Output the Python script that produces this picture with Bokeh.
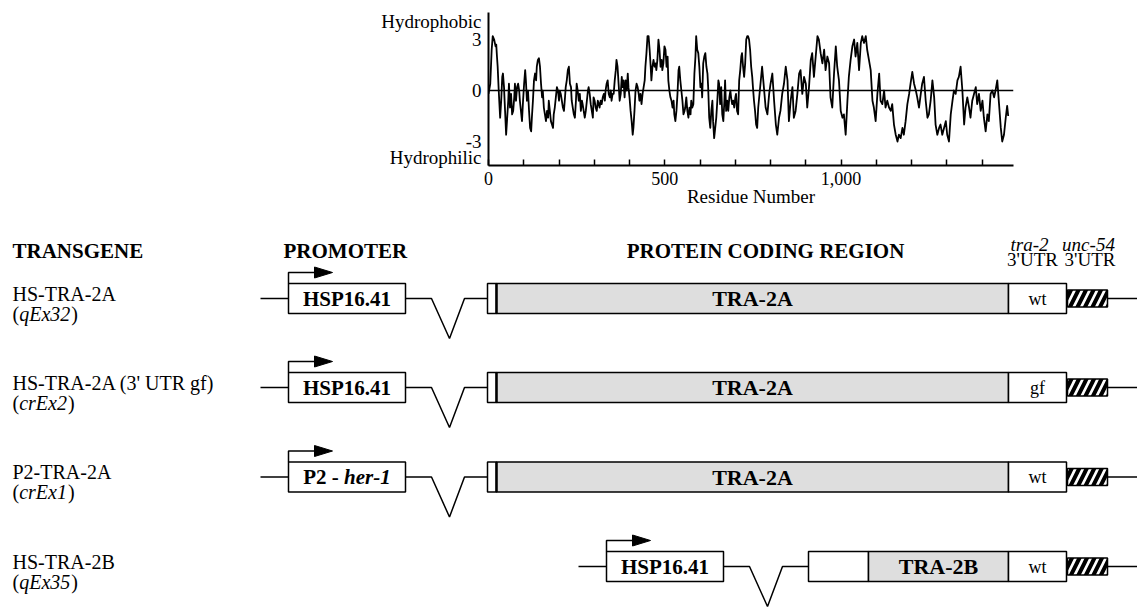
from bokeh.plotting import figure
from bokeh.layouts import column
from bokeh.models import Range1d, FixedTicker, Span
from bokeh.core.properties import value
from bokeh.embed import file_html
from bokeh.resources import INLINE

# ---------------- data ----------------
RESIDUE = [
    0, 5, 9, 12, 16, 20, 22, 24, 26, 29,
    31, 33, 36, 39, 41, 44, 47, 50, 53, 56,
    58, 61, 64, 67, 70, 73, 75, 78, 81, 84,
    87, 89, 92, 95, 98, 101, 104, 106, 109, 112,
    115, 118, 121, 123, 126, 129, 132, 135, 137, 140,
    143, 146, 149, 152, 154, 157, 160, 163, 166, 169,
    171, 174, 177, 180, 183, 185, 188, 191, 194, 197,
    200, 202, 205, 208, 211, 214, 217, 219, 222, 225,
    228, 231, 234, 236, 239, 242, 245, 248, 250, 253,
    256, 259, 262, 265, 267, 270, 273, 276, 279, 282,
    284, 287, 290, 293, 296, 298, 301, 304, 307, 310,
    313, 315, 318, 321, 324, 327, 330, 332, 335, 338,
    341, 344, 347, 349, 352, 355, 358, 361, 363, 366,
    369, 372, 375, 378, 380, 383, 386, 389, 392, 395,
    397, 400, 403, 406, 409, 411, 414, 417, 420, 423,
    426, 428, 431, 434, 437, 440, 443, 445, 448, 451,
    454, 457, 460, 462, 465, 468, 471, 474, 476, 479,
    482, 485, 488, 491, 493, 496, 499, 502, 505, 508,
    510, 513, 516, 519, 522, 525, 527, 530, 533, 536,
    539, 541, 544, 547, 550, 553, 556, 558, 561, 564,
    567, 570, 573, 575, 578, 581, 584, 587, 589, 592,
    595, 598, 601, 604, 606, 609, 612, 615, 618, 621,
    623, 626, 629, 632, 635, 637, 640, 643, 646, 649,
    652, 654, 657, 660, 663, 666, 669, 671, 674, 677,
    680, 683, 686, 688, 691, 694, 697, 700, 702, 705,
    708, 711, 714, 717, 719, 722, 725, 728, 731, 734,
    736, 739, 742, 745, 748, 750, 753, 756, 759, 762, 765,
    776, 781, 786, 791, 796, 800, 805, 810, 815, 819,
    824, 828, 833, 838, 843, 848, 852, 857, 862, 866,
    871, 876, 881, 885, 890, 895, 900, 904, 909, 914,
    918, 923, 928, 933, 937, 942, 947, 952, 956, 961,
    966, 970, 975, 980, 985, 989, 994, 999, 1004, 1008,
    1013, 1018, 1022, 1027, 1032, 1037, 1041, 1046, 1051, 1056,
    1060, 1065, 1070, 1074, 1079, 1084, 1089, 1093, 1098, 1103,
    1108, 1112, 1117, 1122, 1126, 1131, 1136, 1141, 1145, 1150,
    1155, 1160, 1164, 1169, 1174, 1178, 1183, 1188, 1193, 1197,
    1202, 1207, 1212, 1216, 1221, 1226, 1230, 1235, 1240, 1245,
    1249, 1254, 1259, 1264, 1268, 1273, 1278, 1282, 1287, 1292,
    1297, 1301, 1306, 1311, 1316, 1320, 1325, 1330, 1334, 1339,
    1344, 1349, 1353, 1358, 1363, 1367, 1372, 1377, 1382, 1386,
    1391, 1396, 1401, 1405, 1410, 1415, 1419, 1424, 1429, 1434,
    1438, 1443, 1448, 1453, 1457, 1462, 1467, 1471, 1474,
]
HYDROPATHY = [
    -0.2, 0.4, 2.4, 3.2, 3.0, 2.6, 2.7, 2.0, 1.4, 0.0,
    -0.8, -1.6, -0.6, 0.8, 1.0, 0.2, -1.2, -2.6, -1.6, -0.6,
    0.4, -1.0, -0.2, -1.4, -1.2, -0.4, 0.4, -0.6, 0.2, 0.4,
    0.0, -0.6, -1.2, -1.8, -0.6, 0.4, 1.2, 0.6, -0.6, 0.0,
    -1.2, -2.2, -2.4, -1.6, -0.6, 0.6, 1.0, 0.6, 1.4, 1.8,
    1.9, 1.4, 0.4, -0.4, 0.0, -1.0, -1.4, -1.8, -1.2, -1.6,
    -0.6, -1.2, -1.8, -2.0, -2.2, -1.4, -1.0, -0.4, 0.2, 0.0,
    -0.6, 0.0, -0.2, -0.6, -1.0, -1.2, -0.4, 0.2, 0.6, 1.2,
    1.4, 0.4, 0.2, -0.6, -1.0, -1.4, -1.6, -0.6, 0.4, 0.0,
    -0.6, -0.2, -1.2, -0.6, -0.8, -1.2, -1.6, -1.2, -0.6, 0.0,
    0.2, -0.2, -0.8, -1.2, -1.6, -0.4, -0.6, -1.0, -1.2, -0.6,
    -0.8, -1.0, -0.6, -0.8, -0.4, -0.2, -0.6, 0.0, 0.4, 0.6,
    -0.2, -0.4, 0.0, -0.6, -0.2, -0.2, 0.6, 1.2, 1.8, 1.4,
    0.4, -0.6, -0.2, 0.8, 0.2, 0.6, -0.4, 0.6, 0.0, 1.0,
    0.2, -0.4, -1.2, -1.8, -2.6, -2.2, -1.2, 0.0, 0.4, 0.2,
    -0.2, -0.6, -0.2, -0.8, -0.2, 0.2, 0.6, 1.4, 2.2, 3.2,
    3.2, 2.4, 1.4, 0.6, 1.4, 1.8, 1.4, 1.6, 1.2, 1.8,
    3.0, 2.4, 1.4, 1.8, 1.2, 1.6, 2.6, 2.4, 1.4, 2.0,
    0.6, 0.0, -0.4, -0.6, -1.0, -0.6, -1.4, -1.8, -1.2, -0.2,
    1.2, 1.4, 0.6, 0.0, -0.6, -1.4, -1.2, -1.0, -0.4, -1.2,
    -1.6, -1.0, -1.4, -0.6, -1.0, -0.8, 1.0, 2.0, 3.2, 2.4,
    2.2, 1.4, 0.2, 0.4, -0.4, 1.6, 2.0, 2.2, 1.4, 1.0,
    0.2, -1.6, -2.2, -1.2, -0.6, -1.8, -2.8, -2.2, -1.6, -0.6,
    0.6, 0.4, -0.8, 0.2, -1.4, -1.8, -0.6, 0.6, -1.2, -0.6,
    -1.2, -0.4, 0.0, -0.4, -0.8, -0.6, -1.0, -0.4, -0.2, -1.2,
    -1.4, 0.6, 1.2, 2.0, 2.2, 1.4, 0.8, 1.6, 3.0, 3.2,
    3.2, 3.0, 2.4, 1.4, 0.8, 0.2, -0.6, -1.2, -2.0, -2.2, -1.0,
    1.4, 0.2, -1.0, -1.4, -0.2, 0.4, 1.0, -0.6, -2.0, -2.6,
    -1.6, -1.2, -0.2, 0.4, 1.4, 0.6, -1.8, -0.6, 0.2, -1.6,
    -1.2, -0.2, 1.0, 1.2, -0.2, 0.8, 0.4, -1.0, 0.2, 1.8,
    2.2, 0.8, 2.0, 3.2, 3.0, 2.2, 1.6, 2.4, 1.2, 2.0,
    1.6, -0.4, -1.0, 1.0, 2.6, 1.4, 0.6, -1.2, -1.6, -1.4,
    -2.6, -0.6, 0.8, 1.8, 2.6, 3.0, 2.0, 2.8, 1.2, 2.8,
    3.2, 2.8, 3.2, 2.4, 1.8, 1.2, -0.6, -1.0, -1.8, -0.2,
    1.0, -0.6, -0.8, 0.0, -1.0, -0.6, -1.0, -1.2, -0.8, -2.0,
    -2.6, -3.0, -2.6, -2.8, -2.2, -2.6, -1.8, -0.8, -0.2, 0.4,
    1.1, 0.4, 0.0, -0.4, -1.0, -0.2, 0.4, 0.8, -0.6, -1.6,
    -1.4, -0.6, 0.6, -0.4, -2.0, -2.6, -2.2, -2.0, -2.6, -2.2,
    -1.8, -2.6, -3.0, -1.4, -0.6, 0.0, -0.2, 0.6, 0.8, 1.4,
    0.0, -2.0, -1.0, -0.4, -1.0, -1.6, -0.6, -0.2, 0.2, -0.8,
    -0.2, -1.2, -0.6, -1.6, -2.4, -1.4, -1.8, -0.2, 0.0, -0.4,
    0.0, 0.6, -0.8, -2.2, -3.0, -2.6, -1.6, -0.9, -1.5,
]
X_TICKS = [0, 100, 200, 300, 400, 500, 600, 700, 800, 900, 1000, 1100, 1200, 1300, 1400]
X_TICK_LABELS = {0: "0", 500: "500", 1000: "1,000"}
Y_TICKS = [-3.94, -3, 0, 3, 4.06]
Y_TICK_LABELS = {-3.94: "Hydrophilic", -3: "-3", 0: "0", 3: "3", 4.06: "Hydrophobic"}

TRANSGENES = ["HS-TRA-2A", "HS-TRA-2A (3' UTR gf)", "P2-TRA-2A", "HS-TRA-2B"]
STRAINS = ["qEx32", "crEx2", "crEx1", "qEx35"]
PROMOTERS = ["HSP16.41", "HSP16.41", "P2 - her-1", "HSP16.41"]
CODING = ["TRA-2A", "TRA-2A", "TRA-2A", "TRA-2B"]
UTR3 = ["wt", "gf", "wt", "wt"]
HEADERS = ["TRANSGENE", "PROMOTER", "PROTEIN CODING REGION"]

SERIF = "Liberation Serif"

# ---------------- hydropathy plot ----------------
p1 = figure(frame_width=525, frame_height=153, min_border_left=488, min_border_right=124,
            min_border_top=12, min_border_bottom=52,
            x_range=Range1d(0, 1489), y_range=Range1d(-4.41, 4.59),
            toolbar_location=None, output_backend="svg")
p1.frame_align = False
p1.outline_line_color = None
p1.grid.visible = False

xa = p1.xaxis[0]
xa.ticker = FixedTicker(ticks=X_TICKS)
xa.major_label_overrides = {t: X_TICK_LABELS.get(t, "") for t in X_TICKS}
xa.major_tick_in = 6
xa.major_tick_out = 0
xa.minor_tick_line_color = None
xa.axis_line_width = 2
xa.major_tick_line_width = 1.5
xa.major_label_text_font = SERIF
xa.major_label_text_font_size = "18px"
xa.major_label_text_color = "black"
xa.major_label_standoff = 6
xa.axis_label = "Residue Number"
xa.axis_label_text_font = SERIF
xa.axis_label_text_font_size = "19px"
xa.axis_label_text_font_style = "normal"
xa.axis_label_text_color = "black"
xa.axis_label_standoff = -2

ya = p1.yaxis[0]
ya.ticker = FixedTicker(ticks=Y_TICKS)
ya.major_label_overrides = Y_TICK_LABELS
ya.major_tick_in = 0
ya.major_tick_out = 0
ya.minor_tick_line_color = None
ya.axis_line_width = 2
ya.major_label_text_font = SERIF
ya.major_label_text_font_size = "19px"
ya.major_label_text_color = "black"
ya.major_label_standoff = 7

p1.add_layout(Span(location=0, dimension="width", line_color="black", line_width=1.6))
p1.line(RESIDUE, HYDROPATHY, line_color="black", line_width=1.8, line_join="round")

# ---------------- transgene diagrams ----------------
p2 = figure(frame_width=1137, frame_height=392, x_range=Range1d(0, 1137), y_range=Range1d(609, 217),
            x_axis_type=None, y_axis_type=None, min_border=0,
            toolbar_location=None, output_backend="svg")
p2.frame_align = False
p2.outline_line_color = None
p2.grid.visible = False

ROW_Y = [298, 387, 476.5, 566]
PROM_LEFT = [288, 288, 288, 606]
PROM_W = 117
CODE_LEFT = [487, 487, 487, 808]
NTERM_RIGHT = [496, 496, 496, 868]
UTR_L, UTR_R = 1008, 1066
HATCH_L, HATCH_R = 1067, 1107
HALF = 15
VDEPTH = 40

# Times metrics (em units) for placing run-in text pieces
REG = {"(": 0.333, ")": 0.333}
ITAL = {"q": 0.5, "E": 0.611, "x": 0.444, "c": 0.444, "r": 0.389,
        "1": 0.5, "2": 0.5, "3": 0.5, "5": 0.5}
BOLD = {"P": 0.611, "2": 0.5, " ": 0.25, "-": 0.333}
BOLDIT = {"h": 0.556, "e": 0.444, "r": 0.389, "-": 0.333, "1": 0.5}


def width(s, table, size):
    return sum(table[c] for c in s) * size


line_xs, line_ys = [], []
for i, yc in enumerate(ROW_Y):
    pl = PROM_LEFT[i]
    pr = pl + PROM_W
    cl = CODE_LEFT[i]
    line_xs += [[pl - 28, pl], [pr, pr + 26, pr + 44, pr + 59, cl], [HATCH_R, 1137],
                [pl, pl, pl + 27]]
    line_ys += [[yc, yc], [yc, yc, yc + VDEPTH, yc, yc], [yc, yc],
                [yc - HALF, yc - 26, yc - 26]]
p2.multi_line(line_xs, line_ys, line_color="black", line_width=1.5)

# arrow heads
tri_xs = [[pl + 26, pl + 26, pl + 44] for pl in PROM_LEFT]
tri_ys = [[yc - 31.5, yc - 20.5, yc - 26] for yc in ROW_Y]
p2.patches(tri_xs, tri_ys, fill_color="black", line_color="black", line_width=1)

tops = [y - HALF for y in ROW_Y]
bots = [y + HALF for y in ROW_Y]
# promoter boxes
p2.quad(left=PROM_LEFT, right=[x + PROM_W for x in PROM_LEFT], top=tops, bottom=bots,
        fill_color="white", line_color="black", line_width=1.5)
# N-terminal (white) part, coding (grey), 3'UTR (white)
p2.quad(left=CODE_LEFT, right=NTERM_RIGHT, top=tops, bottom=bots,
        fill_color="white", line_color="black", line_width=1.5)
p2.quad(left=NTERM_RIGHT, right=[UTR_L] * 4, top=tops, bottom=bots,
        fill_color="#dedede", line_color="black", line_width=1.5)
p2.multi_line([[x, x] for x in NTERM_RIGHT[:3]], [[t, b] for t, b in zip(tops[:3], bots[:3])],
              line_color="black", line_width=2.4)
p2.quad(left=[UTR_L] * 4, right=[UTR_R] * 4, top=tops, bottom=bots,
        fill_color="white", line_color="black", line_width=1.5)
# unc-54 3'UTR hatched
p2.quad(left=[HATCH_L] * 4, right=[HATCH_R] * 4, top=[y - 8.5 for y in ROW_Y],
        bottom=[y + 8.5 for y in ROW_Y], fill_color="white", line_color="black", line_width=1.5,
        hatch_pattern="/", hatch_color="black", hatch_weight=4, hatch_scale=15)

# headers
p2.text(x=[12, 283], y=[250, 250], text=HEADERS[:2], text_font=value(SERIF), text_font_size="21px",
        text_font_style="bold", text_align="left", text_baseline="middle", text_color="black")
p2.text(x=[765], y=[250], text=HEADERS[2:], text_font=value(SERIF), text_font_size="21px",
        text_font_style="bold", text_align="center", text_baseline="middle", text_color="black")
p2.text(x=[1029, 1088], y=[244, 244], text=["tra-2", "unc-54"], text_font=value(SERIF),
        text_font_size="19px", text_font_style="italic", text_align="center",
        text_baseline="middle", text_color="black")
p2.text(x=[1032, 1089.5], y=[259, 259], text=["3'UTR", "3'UTR"], text_font=value(SERIF),
        text_font_size="19px", text_align="center", text_baseline="middle", text_color="black")

# transgene names
L1, L2 = -5, 15
p2.text(x=[12] * 4, y=[y + L1 for y in ROW_Y], text=TRANSGENES, text_font=value(SERIF),
        text_font_size="20px", text_align="left", text_baseline="middle", text_color="black")
open_w = width("(", REG, 20)
sx = [12 + open_w] * 4
close_x = [12 + open_w + width(s, ITAL, 20) + 1 for s in STRAINS]
p2.text(x=[12] * 4, y=[y + L2 for y in ROW_Y], text=["("] * 4, text_font=value(SERIF),
        text_font_size="20px", text_align="left", text_baseline="middle", text_color="black")
p2.text(x=sx, y=[y + L2 for y in ROW_Y], text=STRAINS, text_font=value(SERIF),
        text_font_size="20px", text_font_style="italic", text_align="left",
        text_baseline="middle", text_color="black")
p2.text(x=close_x, y=[y + L2 for y in ROW_Y], text=[")"] * 4, text_font=value(SERIF),
        text_font_size="20px", text_align="left", text_baseline="middle", text_color="black")

# promoter labels
plain_idx = [i for i, s in enumerate(PROMOTERS) if " - " not in s]
p2.text(x=[PROM_LEFT[i] + PROM_W / 2 for i in plain_idx], y=[ROW_Y[i] for i in plain_idx],
        text=[PROMOTERS[i] for i in plain_idx], text_font=value(SERIF), text_font_size="21px",
        text_font_style="bold", text_align="center", text_baseline="middle", text_color="black")
for i, s in enumerate(PROMOTERS):
    if " - " in s:
        a, b = s.split(" - ")
        head = a + " - "
        w1 = width(head, BOLD, 21)
        w2 = width(b, BOLDIT, 21)
        x0 = PROM_LEFT[i] + PROM_W / 2 - (w1 + w2) / 2
        p2.text(x=[x0], y=[ROW_Y[i]], text=[head], text_font=value(SERIF), text_font_size="21px",
                text_font_style="bold", text_align="left", text_baseline="middle", text_color="black")
        p2.text(x=[x0 + w1], y=[ROW_Y[i]], text=[b], text_font=value(SERIF), text_font_size="21px",
                text_font_style="bold italic", text_align="left", text_baseline="middle",
                text_color="black")

# coding labels
p2.text(x=[(n + UTR_L) / 2 for n in NTERM_RIGHT], y=ROW_Y, text=CODING, text_font=value(SERIF),
        text_font_size="22px", text_font_style="bold", text_align="center", text_baseline="middle",
        text_color="black")
p2.text(x=[(UTR_L + UTR_R) / 2] * 4, y=ROW_Y, text=UTR3, text_font=value(SERIF),
        text_font_size="18px", text_align="center", text_baseline="middle", text_color="black")

layout = column(p1, p2)
open("out.html", "w").write(file_html(layout, INLINE))
